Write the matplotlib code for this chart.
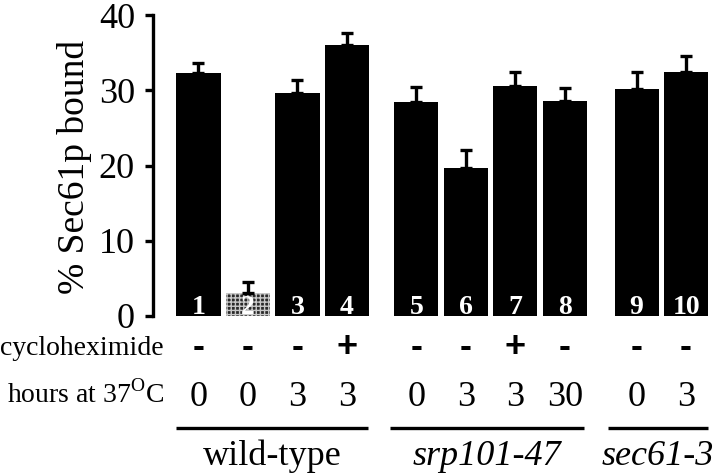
import matplotlib
matplotlib.use("Agg")
import matplotlib.pyplot as plt
import matplotlib.transforms as mtransforms
import numpy as np

# ---- data ----
lanes = ["1", "2", "3", "4", "5", "6", "7", "8", "9", "10"]
values = [32.3, 3.0, 29.7, 36.0, 28.4, 19.7, 30.5, 28.6, 30.1, 32.4]
errors = [1.3, 1.5, 1.6, 1.6, 2.0, 2.3, 1.9, 1.7, 2.3, 2.1]
cycloheximide = ["-", "-", "-", "+", "-", "-", "+", "-", "-", "-"]
hours = ["0", "0", "3", "3", "0", "3", "3", "30", "0", "3"]
groups = ["wild-type", "srp101-47", "sec61-3"]
group_sizes = [4, 4, 2]
yticks = [0, 10, 20, 30, 40]

plt.rcParams["mathtext.fontset"] = "custom"
plt.rcParams["mathtext.rm"] = "Liberation Serif"
SERIF = "Liberation Serif"

W, H = 720, 476
fig = plt.figure(figsize=(W / 100, H / 100), dpi=100)
ax = fig.add_axes([153 / W, 160 / H, (W - 153) / W, 301 / H])

# positions: groups separated by gaps
gap = [0.0, 0.4, 0.85]
x = []
i = 0
for g, n in enumerate(group_sizes):
    for k in range(n):
        x.append(i + gap[g])
        i += 1
x = np.array(x)
bw = 0.89

colors = ["black"] * len(values)
bars = ax.bar(x, values, width=bw, color=colors, edgecolor="none", zorder=2)
# lane 2 checkered
bars[1].set_facecolor("#2a2a2a")
bars[1].set_edgecolor("#c8c8c8")
bars[1].set_hatch("++++")
bars[1].set_linewidth(0)

ax.errorbar(x, values, yerr=[np.zeros(len(errors)), errors], fmt="none",
            ecolor="black", elinewidth=2.4, capsize=4.5, capthick=2.4, zorder=3)

for xi, lab in zip(x, lanes):
    ax.text(xi, 0.25, lab, ha="center", va="baseline", color="white",
            fontsize=20, fontweight="bold", family=SERIF, zorder=4)

ax.set_xlim(-0.919, 10.535)
ax.set_ylim(0, 40)
for s in ["top", "right", "bottom"]:
    ax.spines[s].set_visible(False)
ax.spines["left"].set_linewidth(2.4)
ax.spines["left"].set_bounds(0, 40)
ax.set_xticks([])
ax.set_yticks(yticks)
ax.set_yticklabels([str(t) for t in yticks], family=SERIF, fontsize=26)
ax.tick_params(axis="y", length=6, width=2.4, pad=7)

fig.text(74 / W, 1 - 167 / H, "% Sec61p bound", rotation=90, ha="center",
         va="center", family=SERIF, fontsize=27)

trans = mtransforms.blended_transform_factory(ax.transData, fig.transFigure)

fig.text(164 / W, 1 - 355 / H, "cycloheximide", ha="right", va="baseline",
         family=SERIF, fontsize=20)
fig.text(164 / W, 1 - 403 / H, r"hours at 37$^{\mathrm{O}}$C", ha="right",
         va="baseline", family=SERIF, fontsize=20)

for xi, c, h in zip(x, cycloheximide, hours):
    ax.text(xi, 1 - 348 / H, c, transform=trans, ha="center", va="center",
            family="Liberation Sans", fontweight="bold", fontsize=26)
    ax.text(xi, 1 - 406 / H, h, transform=trans, ha="center", va="baseline",
            family=SERIF, fontsize=26)

start = 0
offsets = [(0.0, -0.02), (-0.08, -0.05), (-0.13, 0.0)]
for g, (name, n) in enumerate(zip(groups, group_sizes)):
    xs = x[start:start + n]
    x0 = xs[0] - bw / 2 + offsets[g][0]
    x1 = xs[-1] + bw / 2 + offsets[g][1]
    ax.plot([x0, x1], [1 - 428 / H] * 2, transform=trans, color="black",
            lw=2.4, clip_on=False, solid_capstyle="butt")
    style = "normal" if g == 0 else "italic"
    ax.text((x0 + x1) / 2, 1 - 465 / H, name, transform=trans, ha="center",
            va="baseline", family=SERIF, fontsize=26, style=style)
    start += n

fig.savefig("out.png", dpi=100)
